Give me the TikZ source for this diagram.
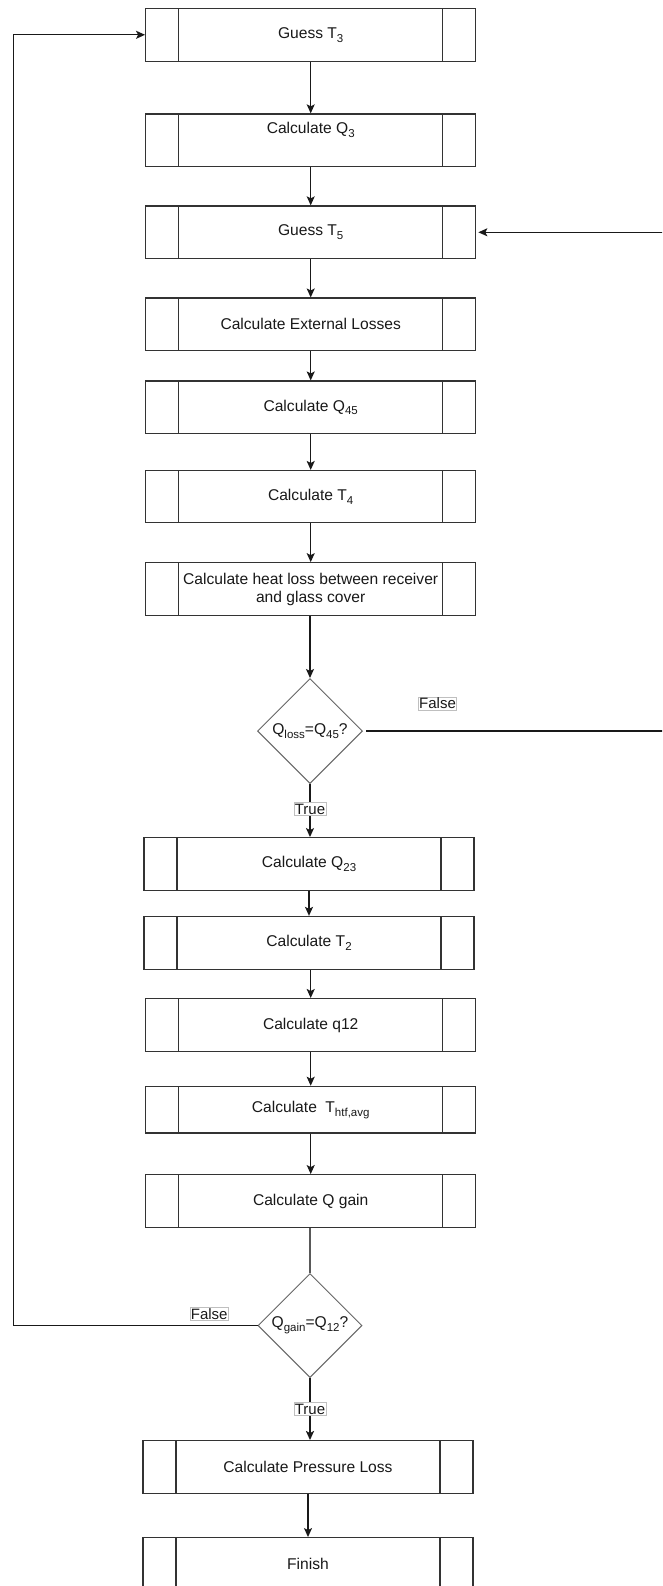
\documentclass[tikz,border=0pt]{standalone}
\usepackage{fontspec}
\setmainfont{Liberation Sans}
\usetikzlibrary{shapes.geometric,arrows.meta}
\newcommand\mysub[1]{\raisebox{-3.8pt}{\fontsize{11.5}{12}\selectfont #1}}
\begin{document}
\begin{tikzpicture}[x=1pt,y=-1pt,
  font=\fontsize{15.6}{18}\selectfont,
  proc/.style={draw=black!80, line width=1.3pt, minimum width=330pt, minimum height=52.6pt,
    inner sep=0pt, text=black!90,
    path picture={\draw[line width=1.3pt, draw=black!80]
      ([xshift=33pt]path picture bounding box.north west) -- ([xshift=33pt]path picture bounding box.south west)
      ([xshift=-33pt]path picture bounding box.north east) -- ([xshift=-33pt]path picture bounding box.south east);}},
  dia/.style={diamond, aspect=1, draw=black!60, line width=1pt, minimum width=105pt, minimum height=105pt,
    inner sep=0pt, text=black!90},
  lbl/.style={draw=black!25, line width=0.8pt, fill=white, inner xsep=0.8pt, inner ysep=1pt,
    text=black!90, font=\fontsize{15}{16}\selectfont},
  arr/.style={-{Stealth[length=9pt,width=8pt,inset=2pt]}, line width=1.3pt, draw=black!90},
  plain/.style={line width=1.3pt, draw=black!65}
]
\useasboundingbox (0,0) rectangle (662,1586);
\fill[white] (0,0) rectangle (662,1586);
\clip (0,0) rectangle (662,1586);

% process boxes
\node[proc, minimum height=52.8pt] (b1) at (310.7,34.8) {Guess T\mysub{3}};
\node[proc, minimum height=52.7pt] (b2) at (310.7,140.35) {};
\node[text=black!90] (b2t) at (310.7,130) {Calculate Q\mysub{3}};
\node[proc] (b3) at (310.7,232.3) {Guess T\mysub{5}};
\node[proc] (b4) at (310.7,324.4) {Calculate External Losses};
\node[proc] (b5) at (310.7,407.4) {Calculate Q\mysub{45}};
\node[proc, minimum height=52pt] (b6) at (310.7,496.6) {Calculate T\mysub{4}};
\node[proc, minimum height=52.4pt, align=center] (b7) at (310.7,589)
  {Calculate heat loss between receiver\\and glass cover};
\node[dia] (d1) at (310,731) {Q\mysub{loss}=Q\mysub{45}?};
\node[proc, minimum height=53pt] (b8) at (309,864.2) {Calculate Q\mysub{23}};
\node[proc, minimum height=53pt] (b9) at (309,943) {Calculate T\mysub{2}};
\node[proc, minimum height=52.7pt] (b10) at (310.7,1025) {Calculate q12};
\node[proc, minimum height=46.6pt] (b11) at (310.7,1109.7) {Calculate\hspace{8.5pt}T\mysub{htf,avg}};
\node[proc, minimum height=53pt] (b12) at (310.7,1201.2) {Calculate Q gain};
\node[dia, minimum width=104pt, minimum height=104pt] (d2) at (310,1325.5) {Q\mysub{gain}=Q\mysub{12}?};
\node[proc] (b13) at (308,1467) {Calculate Pressure Loss};
\node[proc] (b14) at (308,1564) {Finish};

% helper coordinates for loops
\coordinate (rc) at (700,731);
\coordinate (lc) at (13.3,1325.5);

% straight (vertical) connectors
\draw[arr] (b1.south) -- (b1.south |- b2.north);
\draw[arr] (b2.south) -- (b2.south |- b3.north);
\draw[arr] (b3.south) -- (b3.south |- b4.north);
\draw[arr] (b4.south) -- (b4.south |- b5.north);
\draw[arr] (b5.south) -- (b5.south |- b6.north);
\draw[arr] (b6.south) -- (b6.south |- b7.north);
\draw[arr] (d1.north |- b7.south) -- (d1.north);
\draw[arr] (d1.south) -- (d1.south |- b8.north) node[lbl, pos=0.47] (t1) {True};
\draw[arr] (b8.south) -- (b8.south |- b9.north);
\draw[arr] (b10.north |- b9.south) -- (b10.north);
\draw[arr] (b10.south) -- (b10.south |- b11.north);
\draw[arr] (b11.south) -- (b11.south |- b12.north);
\draw[plain] (d2.north |- b12.south) -- (d2.north);
\draw[arr, line width=1.8pt] (d2.south) -- (d2.south |- b13.north) node[lbl, pos=0.5] (t2) {True};
\draw[arr] (b13.south) -- (b13.south |- b14.north);

% loops
\draw[arr, shorten <=3pt, shorten >=2pt] (d1.east) -- (rc) |- (b3.east);
\draw[arr] (d2.west) -- (lc) |- (b1.west);

% false labels
\node[lbl] (f1) at (437.5,703.5) {False};
\node[lbl] (f2) at (209.2,1314) {False};
\end{tikzpicture}
\end{document}
